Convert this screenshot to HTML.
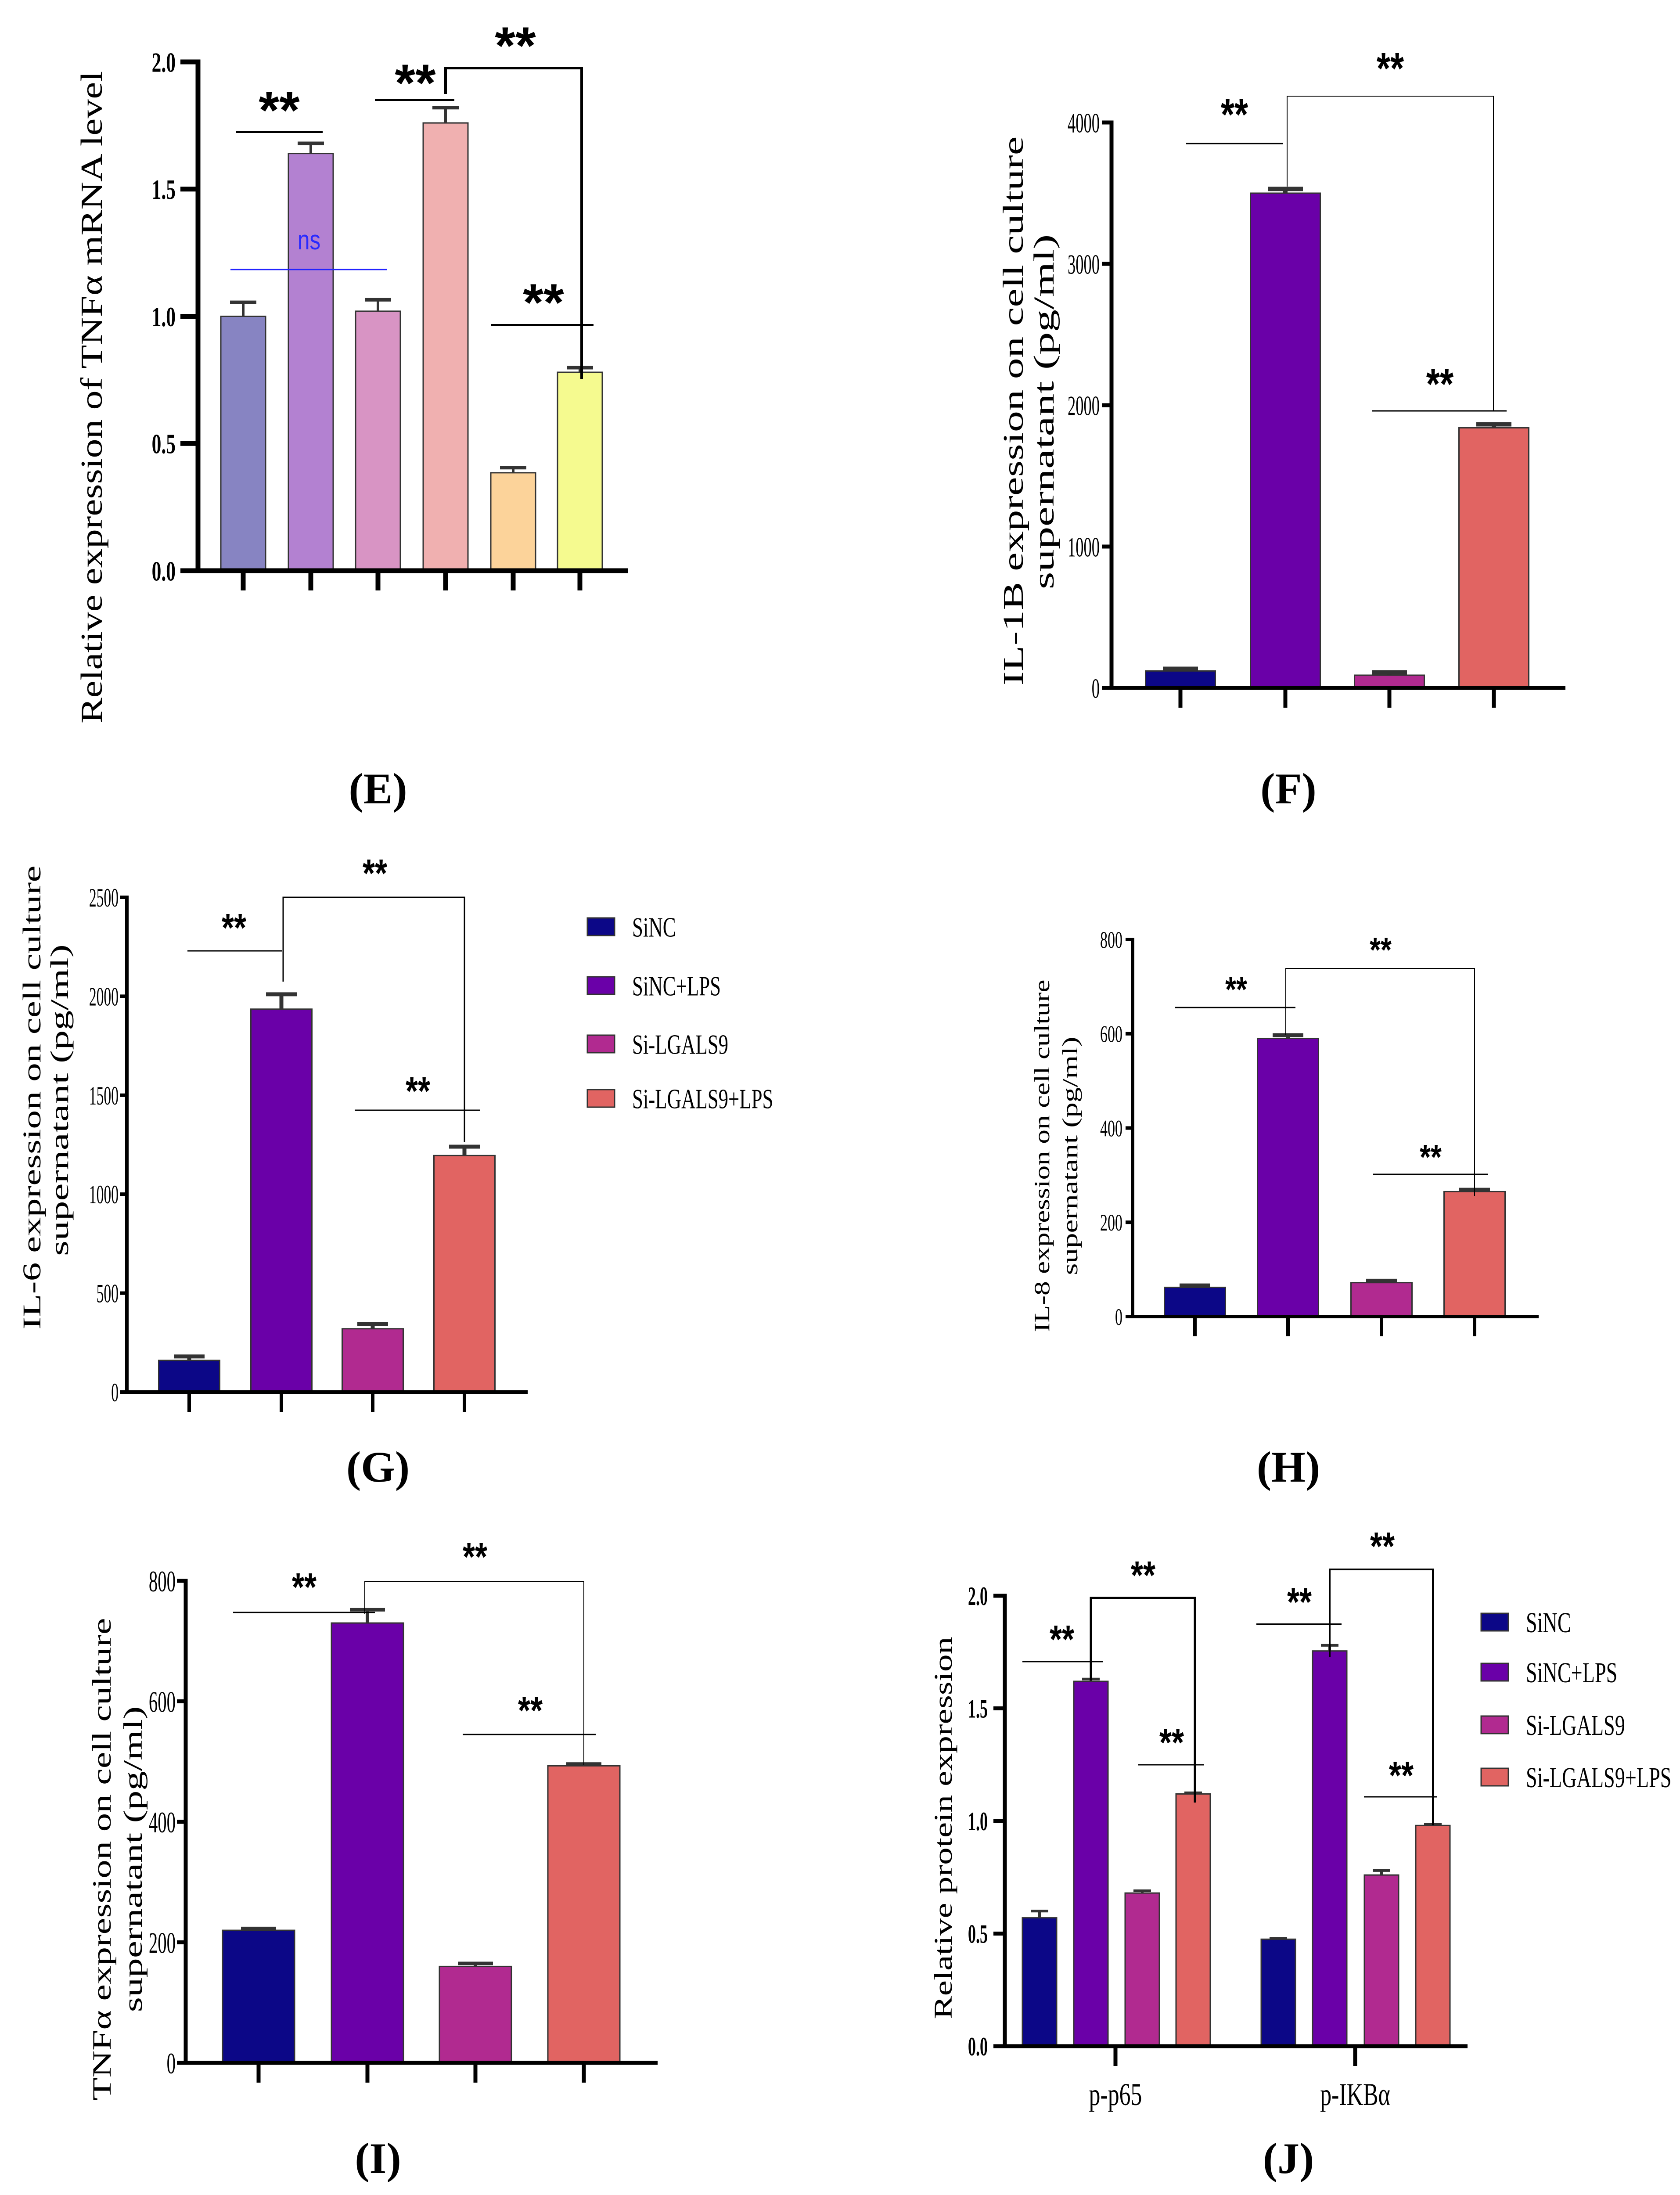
<!DOCTYPE html>
<html><head><meta charset="utf-8"><title>Cytokine panels E-J</title>
<style>html,body{margin:0;padding:0;background:#fff;width:3827px;height:5057px;overflow:hidden}svg{display:block;position:absolute;left:0;top:0}</style></head>
<body>
<svg id="fig" xmlns="http://www.w3.org/2000/svg" width="3827" height="5057" viewBox="0 0 3827 5057"></svg>
<script>
// ---------- DATA ----------
const eValues = [1.0, 1.64, 1.02, 1.76, 0.385, 0.78];
const eErrors = [0.055, 0.04, 0.045, 0.06, 0.02, 0.018];
const eTicks = ["0.0","0.5","1.0","1.5","2.0"];
const eTickVals = [0,0.5,1.0,1.5,2.0];

const fValues = [120, 3500, 90, 1840];
const fErrors = [15, 30, 20, 25];
const fTicks = ["0","1000","2000","3000","4000"];
const fTickVals = [0,1000,2000,3000,4000];

const gValues = [160, 1935, 320, 1195];
const gErrors = [20, 75, 25, 45];
const gTicks = ["0","500","1000","1500","2000","2500"];
const gTickVals = [0,500,1000,1500,2000,2500];

const hValues = [62, 590, 72, 265];
const hErrors = [4, 7, 4, 4];
const hTicks = ["0","200","400","600","800"];
const hTickVals = [0,200,400,600,800];

const iValues = [220, 730, 160, 493];
const iErrors = [3, 22, 5, 3];
const iTicks = ["0","200","400","600","800"];
const iTickVals = [0,200,400,600,800];

const jCategories = ["p-p65","p-IKBα"];
const jP65 = [0.57, 1.62, 0.68, 1.12];
const jP65Err = [0.03, 0.01, 0.01, 0.005];
const jIkb = [0.475, 1.755, 0.76, 0.98];
const jIkbErr = [0.004, 0.025, 0.02, 0.005];
const jTicks = ["0.0","0.5","1.0","1.5","2.0"];
const jTickVals = [0,0.5,1.0,1.5,2.0];

const legendLabels = ["SiNC","SiNC+LPS","Si-LGALS9","Si-LGALS9+LPS"];
</script>
<script>
const NS="http://www.w3.org/2000/svg";
const svg=document.getElementById('fig');
const COLS4=["#0c0787","#6a00a8","#b12a90","#e16462"];
const COLSE=["#8784c2","#b381d1","#d894c4","#f0b0b0","#fcd39a","#f5fa8f"];
function mk(tag,attrs,parent){const e=document.createElementNS(NS,tag);for(const k in attrs)e.setAttribute(k,attrs[k]);(parent||svg).appendChild(e);return e;}
function txt(s,x,y,size,opts,parent){
  opts=opts||{};
  const t=mk('text',{x:0,y:0,'font-size':size,'font-family':opts.fam||'"Liberation Serif", serif','font-weight':opts.w||'normal','text-anchor':opts.anchor||'middle',fill:opts.fill||'#000',transform:`translate(${x},${y}) rotate(${opts.rot||0}) scale(${opts.sx||1},1)`},parent);
  if(opts.len){t.setAttribute('textLength',opts.len);t.setAttribute('lengthAdjust','spacingAndGlyphs');}
  t.textContent=s;return t;
}
function stars(x,yc,size,g,sx){
  const t=txt('**',x,yc+size*0.5,size,{fam:'"Liberation Sans", sans-serif',w:'bold',sx:sx||1},g);
  
  
}
function line(x1,y1,x2,y2,w,g,col){const l=mk('line',{x1,y1,x2,y2,stroke:col||'#000','stroke-width':w},g);return l;}

function panel(p){
  const g=mk('g',{});
  
  
  const ys=v=>p.y0+(p.y1-p.y0)*(v/p.max);
  p.centers.forEach((cx,i)=>{
    const v=p.values[i], top=ys(v);
    const b=mk('rect',{x:cx-p.bw/2,y:top,width:p.bw,height:p.y0-top,fill:p.colors[i],stroke:'#333','stroke-width':3},g);
    
    
    const et=ys(v+p.errors[i]);
    const e1=line(cx,top,cx,et,p.ew||6,g,'#333');
    
    
    line(cx-p.capw/2,et,cx+p.capw/2,et,p.ew||8,g,'#333');
  });
  const tl=p.tl||22;
  const ax=mk('g',{},g);
  
  
  line(p.ax,ys(p.max)-p.aw/2,p.ax,p.y0+p.aw/2,p.aw,ax);
  p.tickVals.forEach((tv,i)=>{
    const y=ys(tv);
    line(p.ax-tl,y,p.ax,y,p.aw,ax);
    const t=txt(p.ticks[i],p.tx,y+p.tfs*0.35,p.tfs,{anchor:'end',sx:p.tsx||0.6,w:p.tw||'normal'},ax);
    
    
  });
  const xa=mk('g',{},g);
  
  
  line(p.ax-tl,p.y0,p.xend,p.y0,p.aw,xa);
  (p.xticks||p.centers).forEach(cx=>line(cx,p.y0,cx,p.y0+45,p.aw,xa));
  p.titles.forEach(tt=>{
    const t=txt(tt.s,tt.x,tt.y,tt.fs,{rot:-90,len:tt.len,anchor:'middle'},g);
    
    
  });
  const an=mk('g',{},g);
  
  
  (p.ann||[]).forEach(a=>{
    if(a.t==='line'){line(a.x1,a.y,a.x2,a.y,a.w||4,an,a.col);}
    else if(a.t==='br'){mk('polyline',{points:`${a.x1},${a.yl} ${a.x1},${a.y} ${a.x2},${a.y} ${a.x2},${a.yr}`,fill:'none',stroke:'#000','stroke-width':a.w||3},an);}
    else if(a.t==='st'){stars(a.x,a.y,a.s||110,an,a.sx);}
  });
  return g;
}
function label(s,x,y){const t=txt(s,x,y,100,{w:'bold'});}
function legend(x,ys,fs){
  const g=mk('g',{});
  
  
  legendLabels.forEach((l,i)=>{
    const e=mk('g',{},g);
    
    
    mk('rect',{x:x,y:ys[i]-20,width:62,height:40,fill:COLS4[i],stroke:'#333','stroke-width':3},e);
    txt(l,x+102,ys[i]+fs*0.35,fs,{anchor:'start',sx:0.7},e);
  });
}

// ---- E ----
panel({name:'chart-e',values:eValues,errors:eErrors,colors:COLSE,max:2,y0:1300,y1:141,
  centers:[554,708,861,1015,1169,1321],bw:102,capw:60,ax:451,aw:11,xend:1430,tx:400,tfs:64,tw:'bold',tsx:0.68,tl:40,
  ticks:eTicks,tickVals:eTickVals,
  titles:[{s:'Relative expression of TNFα mRNA level',x:232,y:905,fs:70,len:1486}],
  ann:[{t:'line',x1:537,x2:735,y:301,w:4},{t:'st',x:636,y:232,s:120},
    {t:'line',x1:854,x2:1035,y:228,w:4},{t:'st',x:946,y:170,s:120},
    {t:'br',x1:1015,yl:214,y:155,x2:1325,yr:863,w:6},{t:'st',x:1174,y:85,s:120},
    {t:'line',x1:1119,x2:1352,y:740,w:4},{t:'st',x:1238,y:670,s:120},
    {t:'line',x1:525,x2:881,y:614,w:3,col:'#2222ff'}]});
{const t=txt('ns',704,568,62,{fam:'"Liberation Sans", sans-serif',fill:'#2a2aff',sx:0.8});}
label('(E)',861,1830);

// ---- F ----
panel({name:'chart-f',values:fValues,errors:fErrors,colors:COLS4,max:4000,y0:1567,y1:279,
  centers:[2689,2928,3165,3403],bw:159,capw:80,ew:10,ax:2532,aw:9,xend:3566,tx:2505,tfs:64,tsx:0.57,
  ticks:fTicks,tickVals:fTickVals,
  titles:[{s:'IL-1B expression on cell culture',x:2330,y:936,fs:66,len:1251},{s:'supernatant (pg/ml)',x:2400,y:938,fs:66,len:809}],
  ann:[{t:'line',x1:2702,x2:2923,y:327,w:3},{t:'st',x:2812,y:245,s:100,sx:0.8},
    {t:'br',x1:2932,yl:425,y:219,x2:3402,yr:936,w:2},{t:'st',x:3167,y:140,s:100,sx:0.8},
    {t:'line',x1:3125,x2:3432,y:936,w:3},{t:'st',x:3280,y:859,s:100,sx:0.8}]});
label('(F)',2935,1830);

// ---- G ----
panel({name:'chart-g',values:gValues,errors:gErrors,colors:COLS4,max:2500,y0:3171,y1:2044,
  centers:[431,641,849,1058],bw:139,capw:70,ew:9,ax:289,aw:8,xend:1202,tx:270,tfs:60,tsx:0.56,tl:16,
  ticks:gTicks,tickVals:gTickVals,
  titles:[{s:'IL-6 expression on cell culture',x:92,y:2500,fs:58,len:1057},{s:'supernatant (pg/ml)',x:155,y:2506,fs:58,len:710}],
  ann:[{t:'line',x1:427,x2:643,y:2166,w:3},{t:'st',x:533,y:2099,s:90,sx:0.8},
    {t:'br',x1:645,yl:2236,y:2044,x2:1058,yr:2601,w:3},{t:'st',x:854,y:1975,s:90,sx:0.8},
    {t:'line',x1:808,x2:1094,y:2529,w:3},{t:'st',x:952,y:2471,s:90,sx:0.8}]});
legend(1338,[2111,2245,2378,2502],64);
label('(G)',861,3375);

// ---- H ----
panel({name:'chart-h',values:hValues,errors:hErrors,colors:COLS4,max:800,y0:2999,y1:2140,
  centers:[2722,2934,3147,3359],bw:139,capw:70,ew:9,ax:2580,aw:8,xend:3505,tx:2557,tfs:54,tsx:0.63,tl:16,
  ticks:hTicks,tickVals:hTickVals,
  titles:[{s:'IL-8 expression on cell culture',x:2390,y:2633,fs:50,len:803},{s:'supernatant (pg/ml)',x:2454,y:2633,fs:50,len:543}],
  ann:[{t:'line',x1:2676,x2:2951,y:2295,w:3},{t:'st',x:2816,y:2241,s:80,sx:0.8},
    {t:'br',x1:2929,yl:2357,y:2206,x2:3359,yr:2725,w:2},{t:'st',x:3145,y:2151,s:80,sx:0.8},
    {t:'line',x1:3128,x2:3389,y:2675,w:3},{t:'st',x:3259,y:2623,s:80,sx:0.8}]});
label('(H)',2935,3375);

// ---- I ----
panel({name:'chart-i',values:iValues,errors:iErrors,colors:COLS4,max:800,y0:4699,y1:3601,
  centers:[589,837,1083,1330],bw:164,capw:80,ew:8,ax:423,aw:9,xend:1498,tx:400,tfs:68,tsx:0.6,tl:20,
  ticks:iTicks,tickVals:iTickVals,
  titles:[{s:'TNFα expression on cell culture',x:252,y:4235,fs:60,len:1099},{s:'supernatant (pg/ml)',x:323,y:4235,fs:60,len:697}],
  ann:[{t:'line',x1:531,x2:854,y:3673,w:3},{t:'st',x:693,y:3601,s:90,sx:0.8},
    {t:'br',x1:831,yl:3677,y:3602,x2:1330,yr:4021,w:2},{t:'st',x:1082,y:3532,s:90,sx:0.8},
    {t:'line',x1:1054,x2:1357,y:3951,w:3},{t:'st',x:1208,y:3882,s:90,sx:0.8}]});
label('(I)',861,4950);

// ---- J (grouped) ----
const jAll=jP65.concat(jIkb), jErrAll=jP65Err.concat(jIkbErr);
panel({name:'chart-j',values:jAll,errors:jErrAll,colors:COLS4.concat(COLS4),max:2,y0:4661,y1:3635,
  centers:[2368,2485,2602,2718,2912,3029,3147,3264],bw:78,capw:40,ew:6,ax:2289,aw:9,xend:3343,tx:2250,tfs:60,tw:'bold',tsx:0.6,tl:26,
  xticks:[2541,3087],ticks:jTicks,tickVals:jTickVals,
  titles:[{s:'Relative protein expression',x:2168,y:4164,fs:58,len:871}],
  ann:[{t:'line',x1:2329,x2:2513,y:3785,w:3},{t:'st',x:2419,y:3720,s:90,sx:0.8},
    {t:'br',x1:2485,yl:3828,y:3640,x2:2722,yr:4106,w:5},{t:'st',x:2604,y:3574,s:90,sx:0.8},
    {t:'line',x1:2593,x2:2743,y:4020,w:3},{t:'st',x:2669,y:3955,s:90,sx:0.8},
    {t:'line',x1:2862,x2:3056,y:3700,w:4},{t:'st',x:2960,y:3635,s:90,sx:0.8},
    {t:'br',x1:3029,yl:3775,y:3575,x2:3264,yr:4158,w:4},{t:'st',x:3149,y:3508,s:90,sx:0.8},
    {t:'line',x1:3107,x2:3273,y:4093,w:3},{t:'st',x:3192,y:4030,s:90,sx:0.8}]});
[2541,3087].forEach((x,i)=>{const t=txt(jCategories[i],x,4795,72,{sx:0.72});});
legend(3374,[3695,3809,3929,4048],66);
label('(J)',2935,4950);
</script>
</body></html>
